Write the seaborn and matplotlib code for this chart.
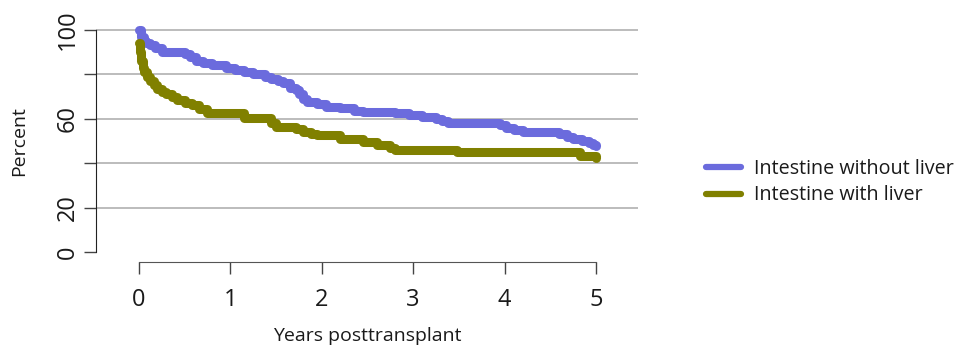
import matplotlib
matplotlib.use("Agg")
import matplotlib.pyplot as plt
import seaborn as sns
import pandas as pd
from matplotlib.lines import Line2D

# Kaplan-Meier style survival
t_without = [0, 0.02, 0.05, 0.08, 0.12, 0.18, 0.25, 0.50, 0.56, 0.62, 0.70, 0.80,
             0.95, 1.05, 1.15, 1.25, 1.38, 1.45, 1.52, 1.58, 1.65, 1.72, 1.75, 1.80,
             1.84, 1.95, 2.05, 2.20, 2.35, 2.45, 2.80, 2.95, 3.10, 3.25, 3.32, 3.38,
             3.95, 4.02, 4.10, 4.20, 4.60, 4.68, 4.75, 4.85, 4.92, 4.97, 5.00]
s_without = [100, 97, 95, 94, 93, 92, 90, 89, 88, 86, 85, 84,
             83, 82, 81, 80, 79, 78, 77, 76, 74, 73, 71, 69,
             67.5, 66.5, 65.5, 65, 63.5, 63, 62.5, 61.5, 61, 60, 59, 58,
             57, 56, 55, 54, 53, 52, 51, 50, 49, 48, 47.5]

t_with = [0, 0.01, 0.02, 0.04, 0.06, 0.09, 0.12, 0.16, 0.20, 0.25, 0.30, 0.36,
          0.42, 0.50, 0.58, 0.66, 0.74, 1.15, 1.45, 1.50, 1.72, 1.80, 1.88, 1.95,
          2.20, 2.45, 2.60, 2.75, 2.80, 3.48, 4.83, 5.00]
s_with = [94, 90, 86, 83, 81, 79, 77, 75, 73.5, 72, 71, 70,
          68.5, 67, 66, 64.5, 62.5, 60.5, 58, 56.5, 55.5, 54, 53, 52.5,
          51, 49.5, 48, 47, 46, 45, 43, 42.5]

groups = ["Intestine without liver", "Intestine with liver"]
colors = ["#6b6bdd", "#808000"]
x_ticks = [0, 1, 2, 3, 4, 5]
y_ticks = [0, 20, 40, 60, 80, 100]
y_labels = ["0", "20", "", "60", "", "100"]

df = pd.concat([
    pd.DataFrame({"years": t_without, "pct": s_without, "group": groups[0]}),
    pd.DataFrame({"years": t_with, "pct": s_with, "group": groups[1]}),
])

sns.set_style("white")
plt.rcParams["font.family"] = ["Open Sans", "DejaVu Sans"]

fig = plt.figure(figsize=(9.58, 3.52), dpi=100)
ax = fig.add_axes([96 / 958, 1 - 262 / 352, (638 - 96) / 958, (262 - 21) / 352])

for yv in y_ticks[1:]:
    ax.axhline(yv, color="#aaaaaa", lw=1.1, zorder=0)

sns.lineplot(data=df, x="years", y="pct", hue="group", palette=colors,
             estimator=None, sort=False, drawstyle="steps-post", lw=6.5,
             solid_capstyle="round", solid_joinstyle="round", ax=ax, legend=False)

ax.set_xlim(-0.47, 5.46)
ax.set_ylim(-4.5, 104)
for side in ["top", "right"]:
    ax.spines[side].set_visible(False)
ax.spines["left"].set_bounds(0, 100)
ax.spines["bottom"].set_bounds(0, 5)
ax.spines["left"].set_color("#222222")
ax.spines["bottom"].set_color("#555555")

ax.set_xticks(x_ticks)
ax.set_xticklabels([str(v) for v in x_ticks])
ax.set_yticks(y_ticks)
ax.set_yticklabels(y_labels, rotation=90, va="center")
ax.tick_params(axis="both", length=8.5, width=1, color="#444444", labelsize=17,
               labelcolor="#1a1a1a", direction="out", bottom=True, left=True)
ax.tick_params(axis="x", pad=10)
ax.tick_params(axis="y", pad=3)

ax.set_xlabel("Years posttransplant", fontsize=14, labelpad=11, color="#1a1a1a")
ax.set_ylabel("Percent", fontsize=14, labelpad=20, color="#1a1a1a")

handles = [Line2D([0], [0], color=c, lw=4.5, solid_capstyle="round") for c in colors]
fig.legend(handles, groups, loc="center left", bbox_to_anchor=(688 / 958, 1 - 182 / 352),
           frameon=False, fontsize=14.2, handlelength=1.8, handletextpad=0.65,
           labelspacing=0.35, labelcolor="#1a1a1a")

fig.savefig("out.png", dpi=100)
